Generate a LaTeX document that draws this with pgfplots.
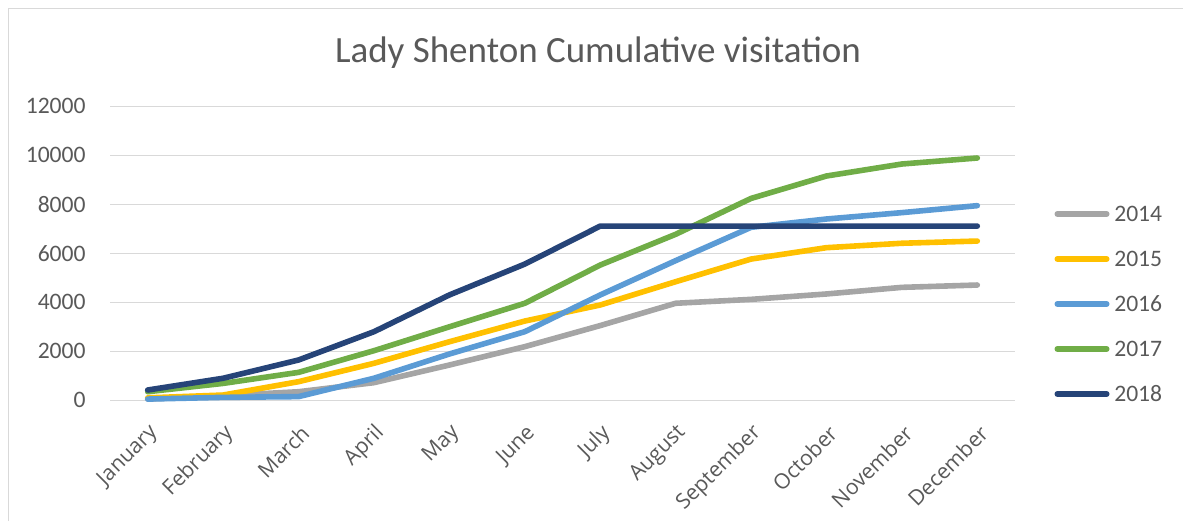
\documentclass[border=0pt]{standalone}
\usepackage{pgfplots}
\pgfplotsset{compat=1.18}
\usepackage{fontspec}
\setmainfont{Carlito}
\newfontfamily\osans{Open Sans}
\definecolor{cgray}{HTML}{A5A5A5}
\definecolor{cyellow}{HTML}{FFC000}
\definecolor{cblue}{HTML}{5B9BD5}
\definecolor{cgreen}{HTML}{70AD47}
\definecolor{cnavy}{HTML}{264478}
\definecolor{ctext}{HTML}{595959}
\definecolor{cgrid}{HTML}{D9D9D9}
\begin{document}
\begin{tikzpicture}
\path[use as bounding box] (0pt,0pt) rectangle (591.5pt,260.5pt);
\draw[cgrid, line width=0.8pt] (4.25pt,0pt) -- (4.25pt,256.25pt) -- (591.5pt,256.25pt);
\node[anchor=base, text=ctext, font=\fontsize{18.5}{22}\selectfont] at (299pt,229.3pt) {Lady Shenton Cumulative visitation};
\begin{axis}[
  at={(55pt,60.35pt)}, anchor=south west,
  scale only axis, width=452.5pt, height=147pt,
  xmin=-0.5, xmax=11.5, ymin=0, ymax=12000,
  xtick={0,...,11},
  xticklabels={January,February,March,April,May,June,July,August,September,October,November,December},
  ytick={0,2000,...,12000},
  scaled y ticks=false,
  /pgf/number format/assume math mode=true,
  /pgf/number format/1000 sep={},
  major tick length=0pt,
  axis line style={draw=none},
  ymajorgrids, grid style={cgrid, line width=0.65pt},
  yticklabel style={font=\fontsize{11.8}{14}\selectfont, text=ctext, inner sep=0pt, xshift=-12pt},
  xticklabel style={font=\osans\fontsize{10.6}{12}\selectfont, text=ctext, xshift=3.5pt, yshift=-14.6pt, rotate=45, anchor=east, inner sep=0pt},
  legend style={draw=none, fill=none, inner sep=0pt, at={(axis description cs:1.0432,0.329)}, anchor=west,
    row sep=14.5pt, column sep=2.4pt,
    font=\fontsize{11.8}{14}\selectfont, text=ctext,
    nodes={inner sep=0pt, anchor=base west, text height=8pt, text depth=0pt}},
  legend cell align=left,
  legend image code/.code={\draw[#1, line cap=round] (0pt,3.8pt) -- (24.7pt,3.8pt);},
  every axis plot/.append style={line width=2.8pt, line join=round, line cap=round, mark=none},
  clip=false,
]
\addplot[cgray] coordinates {(0,50) (1,190) (2,350) (3,720) (4,1440) (5,2190) (6,3050) (7,3960) (8,4120) (9,4340) (10,4610) (11,4705)};
\addlegendentry{2014}
\addplot[cyellow] coordinates {(0,100) (1,215) (2,760) (3,1510) (4,2390) (5,3235) (6,3890) (7,4840) (8,5765) (9,6230) (10,6410) (11,6500)};
\addlegendentry{2015}
\addplot[cblue] coordinates {(0,50) (1,120) (2,150) (3,900) (4,1890) (5,2800) (6,4300) (7,5700) (8,7060) (9,7400) (10,7660) (11,7945)};
\addlegendentry{2016}
\addplot[cgreen] coordinates {(0,350) (1,690) (2,1140) (3,2025) (4,3000) (5,3960) (6,5520) (7,6775) (8,8240) (9,9155) (10,9645) (11,9890)};
\addlegendentry{2017}
\addplot[cnavy] coordinates {(0,420) (1,900) (2,1645) (3,2800) (4,4300) (5,5560) (6,7110) (7,7110) (8,7110) (9,7110) (10,7110) (11,7110)};
\addlegendentry{2018}
\end{axis}
\end{tikzpicture}
\end{document}
